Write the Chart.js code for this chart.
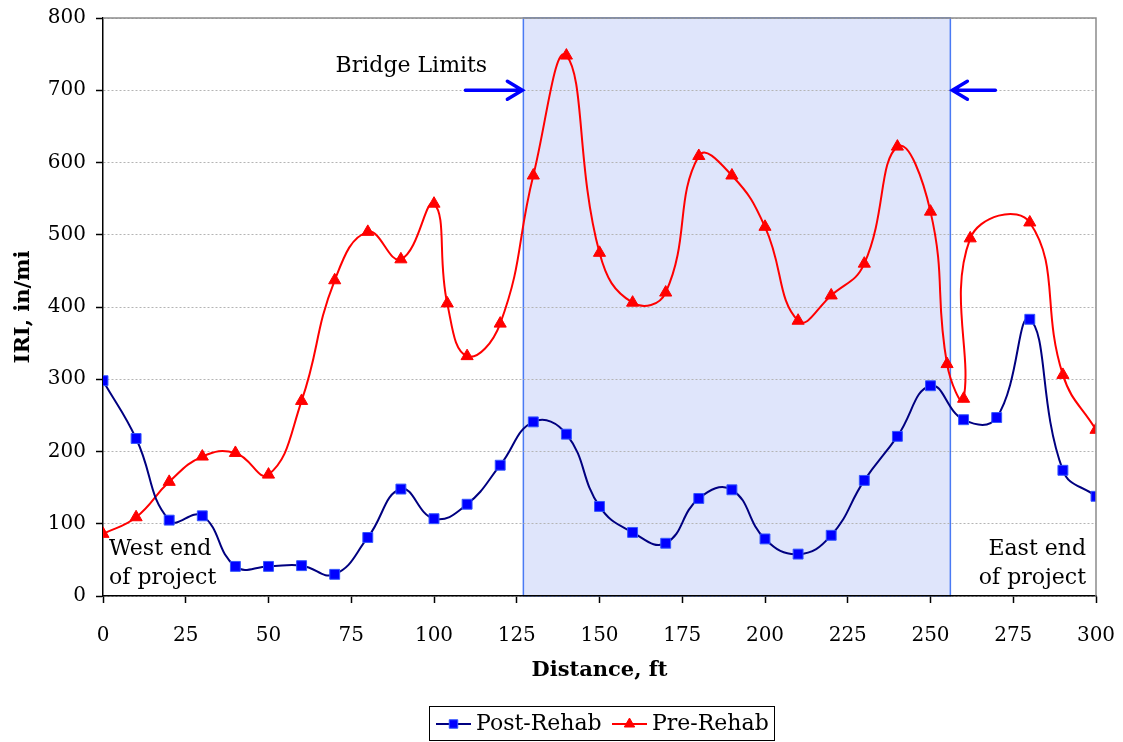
<!DOCTYPE html>
<html>
<head>
<meta charset="utf-8">
<script src="https://cdn.jsdelivr.net/npm/chart.js@4.4.1/dist/chart.umd.min.js"></script>
<style>
  html, body { margin: 0; padding: 0; background: #fff; }
  #wrap { width: 1123px; height: 742px; }
</style>
</head>
<body>
<div id="wrap"><canvas id="iri-chart" width="1123" height="742"></canvas></div>
<script>
// data
var postDistance = [0, 10, 20, 30, 40, 50, 60, 70, 80, 90, 100, 110, 120, 130, 140, 150,
    160, 170, 180, 190, 200, 210, 220, 230, 240, 250, 260, 270, 280, 290, 300];
var postIri = [298, 218, 105, 111, 41, 41, 42, 30, 81, 148, 107, 127, 181, 241, 224, 124,
    88, 73, 135, 147, 79, 58, 84, 160, 221, 291, 244, 247, 383, 174, 138];

var preDistance = [0, 10, 20, 30, 40, 50, 60, 70, 80, 90, 100, 104, 110, 120, 130, 140, 150,
    160, 170, 180, 190, 200, 210, 220, 230, 240, 250, 255, 260, 262, 280, 290, 300];
var preIri = [86, 109, 158, 193, 198, 168, 270, 437, 504, 466, 543, 405, 332, 377, 582, 748, 475,
    406, 420, 609, 582, 511, 381, 416, 460, 622, 532, 321, 273, 495, 517, 306, 230];

var seriesNames = ['Post-Rehab', 'Pre-Rehab'];
var bridgeStart = 127;
var bridgeEnd = 256;
var arrowLevel = 700;

var FONT = '"DejaVu Serif", "Liberation Serif", serif';

function toPoints(xs, ys) {
    return xs.map(function (x, i) { return { x: x, y: ys[i] }; });
}

// shaded bridge box, drawn before the grid so dotted lines show through
var bridgeBox = {
    id: 'bridgeBox',
    beforeDraw: function (chart) {
        var ctx = chart.ctx;
        var xs = chart.scales.x;
        var area = chart.chartArea;
        var x1 = xs.getPixelForValue(bridgeStart);
        var x2 = xs.getPixelForValue(bridgeEnd);
        ctx.save();
        ctx.fillStyle = '#dfe5fb';
        ctx.fillRect(x1, area.top, x2 - x1, area.bottom - area.top);
        ctx.strokeStyle = '#4a7af4';
        ctx.lineWidth = 1.5;
        ctx.strokeRect(x1, area.top, x2 - x1, area.bottom - area.top);
        ctx.restore();
    }
};

var notes = {
    id: 'notes',
    afterDatasetsDraw: function (chart) {
        var ctx = chart.ctx;
        var xs = chart.scales.x;
        var ys = chart.scales.y;
        var area = chart.chartArea;
        ctx.save();

        // top and right frame of the plot area
        ctx.strokeStyle = '#8c8c8c';
        ctx.lineWidth = 1.5;
        ctx.beginPath();
        ctx.moveTo(area.left, area.top);
        ctx.lineTo(area.right, area.top);
        ctx.lineTo(area.right, area.bottom);
        ctx.stroke();

        // arrows pointing at the bridge limits
        var ay = ys.getPixelForValue(arrowLevel);
        var xa = xs.getPixelForValue(bridgeStart);
        var xb = xs.getPixelForValue(bridgeEnd);
        ctx.strokeStyle = '#0000ff';
        ctx.lineWidth = 3.5;
        ctx.lineCap = 'round';
        ctx.beginPath();
        ctx.moveTo(xa - 58, ay);
        ctx.lineTo(xa - 1, ay);
        ctx.moveTo(xa - 16, ay - 9);
        ctx.lineTo(xa - 1, ay);
        ctx.lineTo(xa - 16, ay + 9);
        ctx.moveTo(xb + 45, ay);
        ctx.lineTo(xb + 2, ay);
        ctx.moveTo(xb + 17, ay - 9);
        ctx.lineTo(xb + 2, ay);
        ctx.lineTo(xb + 17, ay + 9);
        ctx.stroke();

        ctx.fillStyle = '#000';
        ctx.font = '22px ' + FONT;
        ctx.textBaseline = 'middle';
        ctx.textAlign = 'center';
        ctx.fillText('Bridge Limits', xa - 112, ay - 24);

        ctx.textAlign = 'left';
        ctx.fillText('West end', area.left + 6, area.bottom - 47);
        ctx.fillText('of project', area.left + 6, area.bottom - 18);
        ctx.textAlign = 'right';
        ctx.fillText('East end', area.right - 10, area.bottom - 47);
        ctx.fillText('of project', area.right - 10, area.bottom - 18);
        ctx.restore();
    }
};

// boxed legend below the axis title, line with marker in its middle
var boxLegend = {
    id: 'boxLegend',
    afterDraw: function (chart) {
        var ctx = chart.ctx;
        var left = 429, top = 706, w = 345, h = 34;
        ctx.save();
        ctx.fillStyle = '#fff';
        ctx.fillRect(left, top, w, h);
        ctx.strokeStyle = '#000';
        ctx.lineWidth = 1;
        ctx.strokeRect(left + 0.5, top + 0.5, w, h);
        var cy = top + h / 2 + 1;
        var starts = [436, 612];
        chart.data.datasets.forEach(function (ds, i) {
            var x0 = starts[i];
            ctx.strokeStyle = ds.borderColor;
            ctx.lineWidth = 2;
            ctx.beginPath();
            ctx.moveTo(x0, cy);
            ctx.lineTo(x0 + 35, cy);
            ctx.stroke();
            ctx.fillStyle = ds.pointBackgroundColor;
            ctx.strokeStyle = ds.pointBorderColor;
            ctx.lineWidth = 1;
            Chart.helpers.drawPoint(ctx, {
                pointStyle: ds.pointStyle, radius: 6, borderWidth: 1,
                rotation: 0
            }, x0 + 17.5, cy);
            ctx.fillStyle = '#000';
            ctx.font = '22px ' + FONT;
            ctx.textAlign = 'left';
            ctx.textBaseline = 'middle';
            ctx.fillText(ds.label, x0 + 40, cy);
        });
        ctx.restore();
    }
};

var ctx = document.getElementById('iri-chart').getContext('2d');
var chart = new Chart(ctx, {
    type: 'line',
    data: {
        datasets: [{
            label: seriesNames[0],
            data: toPoints(postDistance, postIri),
            borderColor: '#000080',
            borderWidth: 2,
            pointStyle: 'rect',
            pointRadius: 7,
            pointBackgroundColor: '#0000ff',
            pointBorderColor: '#3355ff',
            pointBorderWidth: 1,
            tension: 0.45,
            fill: false
        }, {
            label: seriesNames[1],
            data: toPoints(preDistance, preIri),
            borderColor: '#ff0000',
            borderWidth: 2,
            pointStyle: 'triangle',
            pointRadius: 7,
            pointBackgroundColor: '#ff0000',
            pointBorderColor: '#ff0000',
            pointBorderWidth: 1,
            tension: 0.45,
            fill: false
        }]
    },
    options: {
        responsive: false,
        animation: false,
        layout: { padding: { left: 0, right: 27, top: 18, bottom: 54 } },
        plugins: {
            legend: { display: false },
            tooltip: { enabled: false }
        },
        scales: {
            x: {
                type: 'linear',
                min: 0,
                max: 300,
                afterFit: function (scale) {
                    scale.height = 92;
                    scale.paddingLeft = 0;
                    scale.paddingRight = 0;
                },
                ticks: {
                    stepSize: 25,
                    padding: 21,
                    color: '#000',
                    font: { family: FONT, size: 20 }
                },
                grid: {
                    drawOnChartArea: false,
                    tickLength: 7,
                    tickColor: '#000',
                    tickWidth: 1.5
                },
                border: { color: '#000', width: 1.5 },
                title: {
                    display: true,
                    text: 'Distance, ft',
                    color: '#000',
                    font: { family: FONT, size: 21, weight: 'bold' },
                    padding: { top: 0, bottom: 5 }
                }
            },
            y: {
                min: 0,
                max: 800,
                afterFit: function (scale) {
                    scale.width = 103;
                    scale.paddingTop = 0;
                    scale.paddingBottom = 0;
                },
                ticks: {
                    stepSize: 100,
                    padding: 10,
                    color: '#000',
                    font: { family: FONT, size: 20 }
                },
                grid: {
                    color: '#b4b4b4',
                    lineWidth: 1,
                    tickLength: 7,
                    tickColor: '#000',
                    tickWidth: 1.5,
                    tickBorderDash: []
                },
                border: { color: '#000', width: 1.5, dash: [2, 2] },
                title: {
                    display: true,
                    text: 'IRI, in/mi',
                    color: '#000',
                    font: { family: FONT, size: 21, weight: 'bold' },
                    padding: { top: 11, bottom: 0 }
                }
            }
        }
    },
    plugins: [bridgeBox, notes, boxLegend]
});
</script>
</body>
</html>
